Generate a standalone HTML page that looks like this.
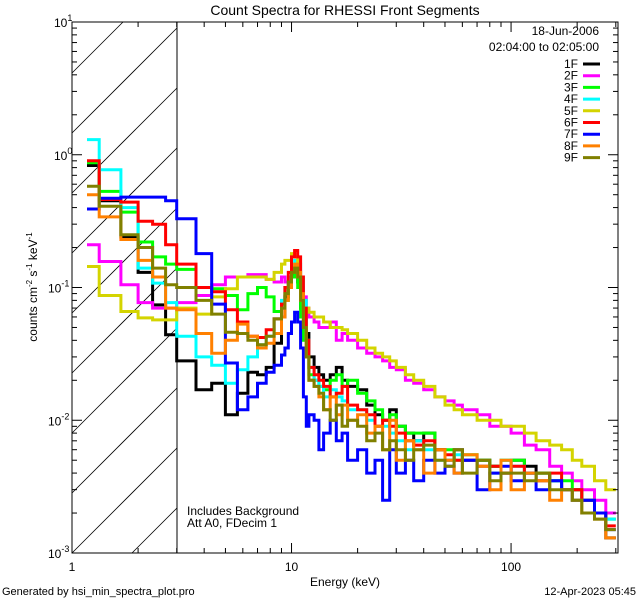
<!DOCTYPE html>
<html><head><meta charset="utf-8"><style>
html,body{margin:0;padding:0;background:#fff;width:640px;height:600px;overflow:hidden}
svg{display:block;font-family:"Liberation Sans",sans-serif}
</style></head><body>
<svg id="chart" width="640" height="600" viewBox="0 0 640 600">
<defs><clipPath id="pclip"><rect x="72" y="22" width="546" height="531"/></clipPath></defs>
<text x="345" y="15" text-anchor="middle" font-size="14">Count Spectra for RHESSI Front Segments</text>
<g id="hatch"></g>
<line x1="177" y1="22" x2="177" y2="553" stroke="#000" stroke-width="1"/>
<g id="series" clip-path="url(#pclip)"></g>
<rect x="72" y="22" width="546" height="531" fill="none" stroke="#000" stroke-width="1"/>
<g id="axes"></g>
<text transform="translate(37,287) rotate(-90)" text-anchor="middle" font-size="12">counts cm<tspan dy="-5" font-size="8">-2</tspan><tspan dy="5"> s</tspan><tspan dy="-5" font-size="8">-1</tspan><tspan dy="5"> keV</tspan><tspan dy="-5" font-size="8">-1</tspan></text>
<text x="345" y="586" text-anchor="middle" font-size="12">Energy (keV)</text>
<text x="599" y="35" text-anchor="end" font-size="12">18-Jun-2006</text>
<text x="599" y="51" text-anchor="end" font-size="12">02:04:00 to 02:05:00</text>
<g id="legend"></g>
<text x="187" y="515" font-size="12">Includes Background</text>
<text x="187" y="527" font-size="12">Att A0, FDecim 1</text>
<text x="2" y="595" font-size="11">Generated by hsi_min_spectra_plot.pro</text>
<text x="636" y="595" text-anchor="end" font-size="11">12-Apr-2023 05:45</text>
</svg>
<script>
const edges=[1.17,1.33,1.67,2,2.33,2.67,3,3.67,4.33,5,5.67,6.33,7,7.67,8.33,9,9.33,9.67,10,10.33,10.67,11,11.33,11.67,12,12.67,13.33,14,15,16,17,18,20,22,24,26,28,30,33,36,40,45,50,55,60,70,80,90,100,115,130,150,170,190,210,240,270,300];
const seriesNames=["1F","2F","3F","4F","5F","6F","7F","8F","9F"];
const seriesColors=["#000000","#ff00ff","#00ff00","#00ffff","#d4d400","#ff0000","#0000ff","#ff8000","#808000"];
const s1F=[0.83,0.45,0.24,0.13,0.074,0.044,0.028,0.017,0.019,0.011,0.016,0.023,0.022,0.025,0.038,0.06,0.085,0.1,0.12,0.13,0.11,0.07,0.06,0.045,0.03,0.025,0.022,0.02,0.022,0.025,0.02,0.018,0.017,0.013,0.011,0.01,0.012,0.009,0.008,0.007,0.008,0.006,0.005,0.006,0.005,0.005,0.0045,0.004,0.005,0.0045,0.004,0.0035,0.003,0.003,0.0025,0.002,0.0013];
const s2F=[0.21,0.157,0.105,0.077,0.07,0.07,0.077,0.087,0.105,0.12,0.12,0.125,0.125,0.115,0.11,0.12,0.11,0.11,0.13,0.13,0.12,0.1,0.085,0.07,0.06,0.055,0.05,0.05,0.055,0.04,0.045,0.04,0.035,0.032,0.03,0.028,0.025,0.024,0.02,0.019,0.017,0.015,0.014,0.013,0.012,0.011,0.009,0.009,0.008,0.0065,0.006,0.0045,0.004,0.0035,0.003,0.0025,0.002];
const s3F=[0.87,0.53,0.37,0.22,0.17,0.15,0.137,0.1,0.098,0.087,0.068,0.09,0.1,0.085,0.066,0.07,0.08,0.1,0.12,0.13,0.1,0.06,0.04,0.03,0.022,0.02,0.018,0.017,0.02,0.022,0.018,0.02,0.016,0.014,0.012,0.01,0.011,0.009,0.008,0.008,0.008,0.006,0.006,0.005,0.0055,0.005,0.0045,0.005,0.005,0.004,0.004,0.0035,0.0035,0.003,0.0025,0.002,0.0018];
const s4F=[1.3,0.77,0.4,0.14,0.108,0.077,0.043,0.03,0.026,0.019,0.024,0.03,0.037,0.043,0.058,0.08,0.1,0.12,0.14,0.16,0.15,0.12,0.08,0.04,0.025,0.02,0.018,0.015,0.017,0.015,0.014,0.012,0.012,0.01,0.009,0.009,0.008,0.007,0.006,0.007,0.006,0.005,0.005,0.0055,0.005,0.0045,0.004,0.005,0.0045,0.004,0.0035,0.0035,0.003,0.0025,0.0025,0.002,0.0018];
const s5F=[0.144,0.087,0.066,0.059,0.057,0.057,0.07,0.063,0.085,0.098,0.12,0.12,0.12,0.115,0.13,0.15,0.16,0.16,0.18,0.17,0.12,0.08,0.07,0.07,0.065,0.06,0.06,0.055,0.05,0.05,0.048,0.045,0.04,0.035,0.032,0.03,0.028,0.025,0.022,0.02,0.018,0.015,0.013,0.012,0.011,0.01,0.01,0.009,0.009,0.008,0.007,0.0065,0.006,0.005,0.0045,0.0035,0.003];
const s6F=[0.9,0.46,0.44,0.315,0.3,0.21,0.15,0.1,0.093,0.068,0.055,0.043,0.042,0.048,0.058,0.075,0.1,0.13,0.17,0.19,0.17,0.12,0.07,0.04,0.025,0.022,0.02,0.018,0.015,0.016,0.018,0.013,0.012,0.011,0.009,0.01,0.009,0.008,0.007,0.0065,0.007,0.006,0.0055,0.005,0.005,0.0045,0.0045,0.004,0.0045,0.004,0.0035,0.004,0.003,0.003,0.0025,0.002,0.0016];
const s7F=[0.39,0.47,0.48,0.48,0.48,0.45,0.33,0.18,0.075,0.027,0.012,0.015,0.019,0.023,0.026,0.031,0.035,0.045,0.055,0.065,0.055,0.035,0.015,0.009,0.011,0.01,0.006,0.008,0.01,0.007,0.008,0.005,0.006,0.004,0.005,0.0025,0.006,0.004,0.005,0.0035,0.005,0.004,0.0045,0.004,0.005,0.003,0.004,0.0045,0.0035,0.004,0.003,0.0035,0.003,0.0025,0.0025,0.002,0.0015];
const s8F=[0.5,0.34,0.23,0.16,0.12,0.07,0.068,0.045,0.032,0.04,0.053,0.043,0.035,0.038,0.045,0.06,0.08,0.1,0.13,0.15,0.13,0.09,0.05,0.03,0.02,0.018,0.015,0.012,0.015,0.011,0.013,0.01,0.011,0.008,0.009,0.006,0.01,0.005,0.007,0.006,0.004,0.006,0.005,0.004,0.0055,0.0045,0.003,0.005,0.003,0.004,0.0035,0.0025,0.003,0.0025,0.002,0.0018,0.0013];
const s9F=[0.58,0.41,0.25,0.2,0.14,0.105,0.1,0.08,0.063,0.046,0.045,0.04,0.037,0.043,0.058,0.07,0.09,0.11,0.13,0.14,0.12,0.08,0.05,0.03,0.02,0.018,0.016,0.012,0.01,0.013,0.009,0.01,0.009,0.007,0.008,0.006,0.007,0.006,0.005,0.006,0.0065,0.005,0.0045,0.006,0.004,0.005,0.0035,0.004,0.004,0.0035,0.004,0.003,0.003,0.0025,0.002,0.0018,0.0015];
const seriesValues=[s1F,s2F,s3F,s4F,s5F,s6F,s7F,s8F,s9F];
const xTickLabels=["1","10","100"];
const yTickExps=["1","0","-1","-2","-3"];

const NS="http://www.w3.org/2000/svg";
const X0=72,X1=618,Y0=22,Y1=553;
const xMin=Math.log10(1),xMax=Math.log10(307),yMin=-3,yMax=1;
function xs(e){return X0+(Math.log10(e)-xMin)/(xMax-xMin)*(X1-X0);}
function ys(v){return Y1-(Math.log10(v)-yMin)/(yMax-yMin)*(Y1-Y0);}
function mk(tag,attrs,parent){const el=document.createElementNS(NS,tag);for(const k in attrs)el.setAttribute(k,attrs[k]);parent.appendChild(el);return el;}

const hatch=document.getElementById('hatch');
for(let k=-2;k<12;k++){
  const yb=553-k*60;
  let hx1=72,hy1=yb;
  if(hy1>553){hx1=72+(hy1-553);hy1=553;}
  let hx2=177,hy2=yb-105;
  if(hy2<22){hx2=177-(22-hy2);hy2=22;}
  if(hx1>=hx2)continue;
  const ln=mk('line',{x1:hx1,y1:hy1,x2:hx2,y2:hy2,stroke:'#000','stroke-width':0.8},hatch);
  
  
}

const axes=document.getElementById('axes');
for(let d=0;d<3;d++){
  for(let m=1;m<10;m++){
    const e=Math.pow(10,d)*m; if(e>307)break;
    const x=xs(e); const L=(m===1)?10:5;
    mk('line',{x1:x,y1:Y1,x2:x,y2:Y1-L,stroke:'#000'},axes);
    mk('line',{x1:x,y1:Y0,x2:x,y2:Y0+L,stroke:'#000'},axes);
  }
  const t=mk('text',{x:xs(Math.pow(10,d)),y:571,'text-anchor':'middle','font-size':12},axes);
  t.textContent=xTickLabels[d];
  
  
}
for(let d=-3;d<1;d++){
  for(let m=1;m<10;m++){
    const v=Math.pow(10,d)*m; const y=ys(v); const L=(m===1)?10:5;
    mk('line',{x1:X0,y1:y,x2:X0+L,y2:y,stroke:'#000'},axes);
    mk('line',{x1:X1,y1:y,x2:X1-L,y2:y,stroke:'#000'},axes);
  }
}
yTickExps.forEach(function(ex){
  const y=ys(Math.pow(10,+ex));
  const t=mk('text',{x:ex.length>1?48:54,y:y+5,'font-size':12},axes);
  
  
  t.textContent='10';
  const s=mk('tspan',{dy:-6,'font-size':9},t); s.textContent=ex;
});

const sg=document.getElementById('series');
seriesValues.forEach(function(vals,i){
  let d='';
  vals.forEach(function(v,j){
    const xa=xs(edges[j]),xb=xs(edges[j+1]),y=ys(v);
    d+=(j===0?'M':'L')+xa.toFixed(1)+','+y.toFixed(1)+'L'+xb.toFixed(1)+','+y.toFixed(1);
  });
  const p=mk('path',{d:d,fill:'none',stroke:seriesColors[i],'stroke-width':3,'stroke-linejoin':'miter'},sg);
  
  
});

const lg=document.getElementById('legend');
seriesNames.forEach(function(n,i){
  const y=64+i*11.7;
  const t=mk('text',{x:578,y:y+4,'text-anchor':'end','font-size':12},lg);
  t.textContent=n;
  
  
  const l=mk('line',{x1:583,y1:y,x2:600,y2:y,stroke:seriesColors[i],'stroke-width':3},lg);
  
  
});
</script>
</body></html>
